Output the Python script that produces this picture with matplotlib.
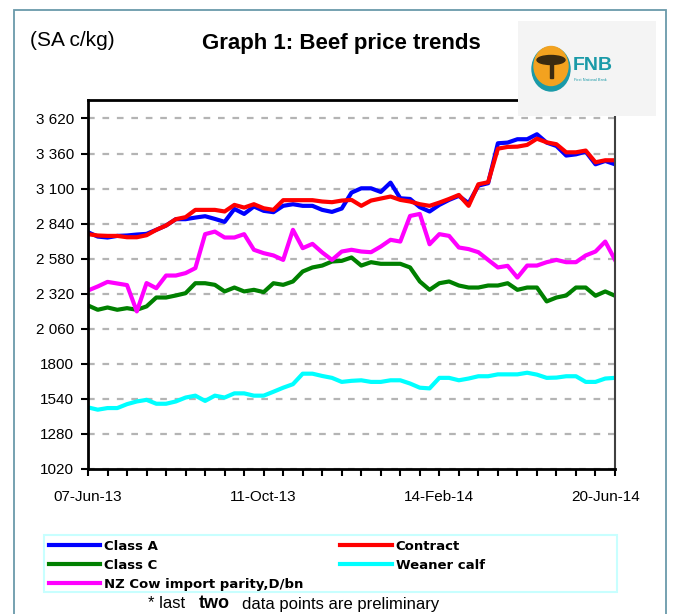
import matplotlib
matplotlib.use("Agg")
import matplotlib.pyplot as plt
from matplotlib.patches import Rectangle, Ellipse
from matplotlib.transforms import offset_copy

plt.rcParams['font.family'] = ['Liberation Sans', 'DejaVu Sans']

# weekly prices, 07-Jun-13 .. 20-Jun-14 (SA c/kg)
class_a = [2776, 2744, 2737, 2749, 2752, 2759, 2764, 2794, 2826, 2873, 2873, 2885, 2895, 2875,
           2853, 2949, 2912, 2967, 2935, 2925, 2972, 2984, 2972, 2972, 2942, 2927, 2952, 3070,
           3102, 3102, 3075, 3144, 3028, 3023, 2962, 2930, 2979, 3016, 3046, 2991, 3122, 3140,
           3436, 3441, 3466, 3466, 3503, 3441, 3416, 3345, 3354, 3374, 3280, 3305, 3280]
contract = [2762, 2752, 2749, 2749, 2739, 2739, 2754, 2794, 2826, 2873, 2888, 2942, 2942, 2942,
            2930, 2979, 2959, 2984, 2954, 2942, 3014, 3014, 3014, 3014, 3004, 2999, 3011, 3016,
            2972, 3011, 3026, 3041, 3016, 3004, 2984, 2972, 2996, 3023, 3053, 2972, 3132, 3147,
            3396, 3409, 3411, 3424, 3470, 3443, 3429, 3369, 3369, 3382, 3295, 3310, 3310]
class_c = [2233, 2201, 2218, 2201, 2213, 2201, 2226, 2292, 2292, 2307, 2324, 2398, 2398, 2386,
           2337, 2366, 2337, 2349, 2332, 2398, 2386, 2411, 2485, 2515, 2529, 2559, 2564, 2589,
           2529, 2554, 2542, 2542, 2542, 2515, 2411, 2349, 2398, 2411, 2381, 2366, 2366, 2381,
           2381, 2398, 2349, 2366, 2366, 2263, 2292, 2307, 2366, 2366, 2305, 2337, 2305]
weaner = [1477, 1460, 1472, 1472, 1501, 1521, 1533, 1504, 1504, 1521, 1550, 1564, 1525, 1564,
          1550, 1581, 1581, 1564, 1564, 1593, 1623, 1649, 1727, 1727, 1710, 1696, 1666, 1674,
          1678, 1666, 1666, 1678, 1678, 1654, 1623, 1618, 1696, 1696, 1678, 1691, 1708, 1708,
          1722, 1722, 1722, 1734, 1720, 1696, 1698, 1708, 1708, 1666, 1666, 1691, 1696]
nz_cow = [2344, 2374, 2408, 2396, 2384, 2189, 2399, 2361, 2455, 2455, 2473, 2510, 2762, 2781,
          2737, 2737, 2762, 2646, 2621, 2604, 2571, 2794, 2658, 2690, 2626, 2571, 2633, 2646,
          2633, 2628, 2670, 2720, 2707, 2897, 2912, 2687, 2762, 2749, 2663, 2651, 2628, 2571,
          2515, 2527, 2440, 2529, 2529, 2554, 2571, 2554, 2554, 2604, 2633, 2707, 2571]

y_ticks = [1020, 1280, 1540, 1800, 2060, 2320, 2580, 2840, 3100, 3360, 3620]
y_labels = ['1020', '1280', '1540', '1800', '2 060', '2 320', '2 580', '2 840', '3 100',
            '3 360', '3 620']
date_labels = {0: '07-Jun-13', 18: '11-Oct-13', 36: '14-Feb-14', 54: '20-Jun-14'}

fig = plt.figure(figsize=(6.74, 6.14), dpi=100)
W, H = 674, 614

# outer border of the chart
fig.add_artist(Rectangle((14 / W, -0.05), 652 / W, 1.05 - 10 / H, transform=fig.transFigure,
                         fill=False, edgecolor='#6a9aaa', lw=1.3, clip_on=False))

ax = fig.add_axes([88 / W, 1 - 469 / H, 527 / W, 369 / H])
x = list(range(len(class_a)))
series = [
    (class_a, '#0000ff', 'Class A'),
    (contract, '#ff0000', 'Contract'),
    (class_c, '#008000', 'Class C'),
    (weaner, '#00ffff', 'Weaner calf'),
    (nz_cow, '#ff00ff', 'NZ Cow import parity,D/bn'),
]
handles = {}
for vals, col, name in series:
    line, = ax.plot(x, vals, color=col, lw=3, label=name)
    handles[name] = line

ax.set_xlim(0, 54)
ax.set_ylim(1020, 3757)
ax.set_yticks(y_ticks)
ax.set_yticklabels(y_labels, fontsize=11)
ax.set_xticks(range(0, 55, 2))
ax.set_xticklabels([date_labels.get(i, '') for i in range(0, 55, 2)], fontsize=11)
ax.tick_params(axis='both', direction='out', length=5, width=1.5, color='black')
ax.tick_params(axis='y', pad=5)
ax.tick_params(axis='x', pad=10)
# last date label sits a little left of its tick, as in the original
last_lbl = ax.get_xticklabels()[-1]
last_lbl.set_transform(offset_copy(last_lbl.get_transform(), fig=fig, x=-9, units='dots'))
ax.yaxis.grid(True, linestyle=(0, (3, 3.5)), color='#b4b4b4', lw=1.6)
ax.set_axisbelow(True)
for s in ['left', 'bottom', 'top']:
    ax.spines[s].set_linewidth(2)
    ax.spines[s].set_color('black')
ax.spines['right'].set_linewidth(1.5)
ax.spines['right'].set_color('#404040')

# header texts
fig.text(30 / W, 1 - 40 / H, '(SA c/kg)', fontsize=15, va='center', ha='left')
fig.text(341 / W, 1 - 43 / H, 'Graph 1: Beef price trends', fontsize=16, fontweight='bold',
         va='center', ha='center')

# FNB logo
lax = fig.add_axes([518 / W, 1 - 116 / H, 138 / W, 95 / H])
lax.set_xlim(0, 138)
lax.set_ylim(0, 95)
lax.axis('off')
lax.add_patch(Rectangle((0, 0), 138, 95, color='#f4f4f4'))
lax.add_patch(Ellipse((33, 47), 38, 44, color='#1a9aa8'))
lax.add_patch(Ellipse((33, 50), 34, 39, color='#f3a21f'))
lax.add_patch(Ellipse((33, 56), 28, 9, color='#3a2a10'))
lax.add_patch(Rectangle((31.5, 38), 3, 16, color='#3a2a10'))
lax.text(55, 50, 'FNB', fontsize=14, fontweight='bold', color='#1a9aa8', va='center', ha='left')
lax.text(56, 36, 'First National Bank', fontsize=2.8, color='#1a9aa8', va='center', ha='left')

# legend
fig.add_artist(Rectangle((44 / W, 1 - 592 / H), 573 / W, 57 / H, transform=fig.transFigure,
                         fill=False, edgecolor='#c8ffff', lw=1.5))
order = ['Class A', 'Class C', 'NZ Cow import parity,D/bn', 'Contract', 'Weaner calf']
fig.legend([handles[n] for n in order], order, ncol=2, loc='upper left',
           bbox_to_anchor=(46 / W, 1 - 537 / H), frameon=False,
           prop={'family': 'DejaVu Sans', 'weight': 'bold', 'size': 9.5},
           handlelength=3.9, handletextpad=0.3, columnspacing=2.8, labelspacing=0.45,
           borderpad=0.2, borderaxespad=0)

# footnote
fig.text(148 / W, 1 - 604 / H, '* last', fontsize=12, va='center', ha='left')
fig.text(199 / W, 1 - 604 / H, 'two', fontsize=13, fontweight='bold', va='center', ha='left')
fig.text(242 / W, 1 - 604 / H, 'data points are preliminary', fontsize=12, va='center', ha='left')

fig.savefig('out.png', dpi=100)
